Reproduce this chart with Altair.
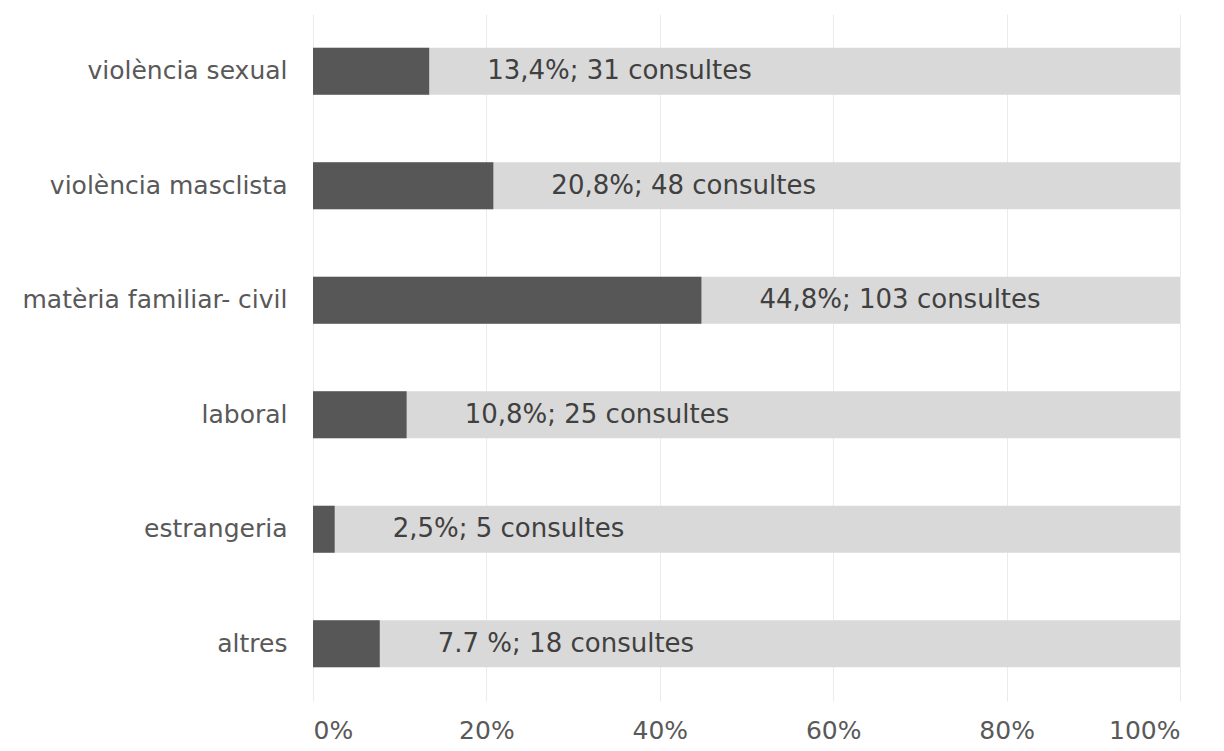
import altair as alt
import pandas as pd

categories = ["violència sexual", "violència masclista", "matèria familiar- civil",
              "laboral", "estrangeria", "altres"]
percent = [13.4, 20.8, 44.8, 10.8, 2.5, 7.7]
consultes = [31, 48, 103, 25, 5, 18]
labels = ["13,4%; 31 consultes", "20,8%; 48 consultes", "44,8%; 103 consultes",
          "10,8%; 25 consultes", "2,5%; 5 consultes", "7.7 %; 18 consultes"]
total = [100] * len(categories)
ticks = [0, 20, 40, 60, 80, 100]

df = pd.DataFrame({
    "cat": categories,
    "pct": percent,
    "n": consultes,
    "label": labels,
    "total": total,
    "zero": [0] * len(categories),
})

FONT = "DejaVu Sans"

y_enc = alt.Y("cat:N", sort=categories, title=None,
              scale=alt.Scale(paddingInner=0.59, paddingOuter=0.295),
              axis=alt.Axis(domain=False, ticks=False, grid=False,
                            labelFont=FONT, labelFontSize=25, labelColor="#595959",
                            labelPadding=26, labelAlign="right", labelLimit=400))

x_scale = alt.Scale(domain=[0, 100], nice=False)

bg = alt.Chart(df).mark_bar(color="#d9d9d9").encode(
    y=y_enc,
    x=alt.X("zero:Q", scale=x_scale, title=None,
            axis=alt.Axis(values=ticks, labelExpr="datum.value + '%'",
                          domain=False, ticks=False, grid=True,
                          gridColor="#ebebeb", gridWidth=1,
                          labelFont=FONT, labelFontSize=25, labelColor="#595959",
                          labelPadding=17)),
    x2="total:Q",
)

fg = alt.Chart(df).mark_bar(color="#575757").encode(
    y=alt.Y("cat:N", sort=categories),
    x=alt.X("zero:Q", scale=x_scale),
    x2="pct:Q",
)

txt = alt.Chart(df).mark_text(align="left", baseline="middle", dx=58,
                              font=FONT, fontSize=26, color="#404040").encode(
    y=alt.Y("cat:N", sort=categories),
    x=alt.X("pct:Q", scale=x_scale),
    text="label:N",
)

chart = alt.layer(bg, fg, txt).properties(
    width=867, height=687,
    autosize=alt.AutoSizeParams(type="none"),
    padding={"left": 305, "top": 6, "right": 24, "bottom": 42},
).configure_view(stroke=None)

chart.save("out.html", embed_options={"renderer": "svg", "actions": False})
